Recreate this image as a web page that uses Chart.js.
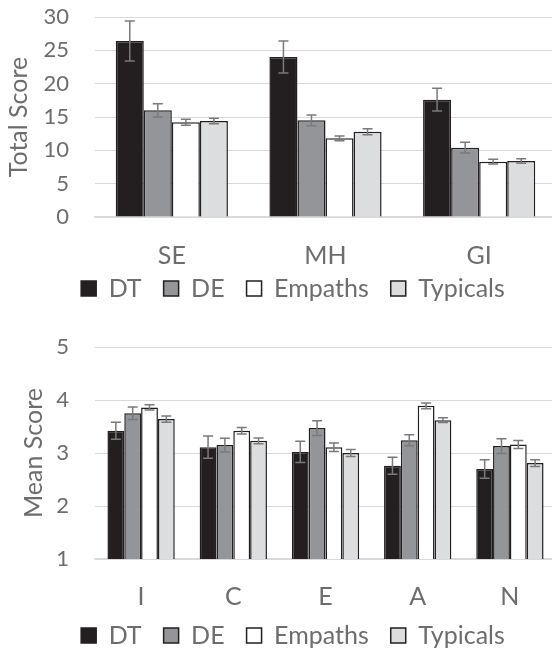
<!DOCTYPE html>
<html>
<head>
<meta charset="utf-8">
<script src="https://cdn.jsdelivr.net/npm/chart.js@4/dist/chart.umd.min.js"></script>
<style>
  body { margin: 0; background: #fff; overflow: hidden; }
  #top { position: absolute; left: 0; top: 0; }
  #bottom { position: absolute; left: 0; top: 318px; }
</style>
</head>
<body>
<canvas id="top" width="556" height="328"></canvas>
<canvas id="bottom" width="556" height="351"></canvas>
<script>
/* data */

const groups = ['DT', 'DE', 'Empaths', 'Typicals'];

const totalCategories = ['SE', 'MH', 'GI'];
const totalDT = [26.4, 24.0, 17.6];
const totalDTErr = [3.0, 2.4, 1.7];
const totalDE = [16.0, 14.5, 10.4];
const totalDEErr = [1.0, 0.8, 0.8];
const totalEmpaths = [14.2, 11.8, 8.3];
const totalEmpathsErr = [0.45, 0.35, 0.35];
const totalTypicals = [14.4, 12.8, 8.4];
const totalTypicalsErr = [0.4, 0.45, 0.35];
const totalTicks = { min: 0, max: 30, step: 5 };

const meanCategories = ['I', 'C', 'E', 'A', 'N'];
const meanDT = [3.42, 3.11, 3.02, 2.76, 2.70];
const meanDTErr = [0.16, 0.21, 0.20, 0.16, 0.175];
const meanDE = [3.75, 3.15, 3.47, 3.24, 3.13];
const meanDEErr = [0.12, 0.13, 0.14, 0.105, 0.14];
const meanEmpaths = [3.86, 3.42, 3.11, 3.89, 3.16];
const meanEmpathsErr = [0.05, 0.06, 0.08, 0.055, 0.075];
const meanTypicals = [3.64, 3.23, 3.00, 3.62, 2.81];
const meanTypicalsErr = [0.06, 0.055, 0.065, 0.045, 0.065];
const meanTicks = { min: 1, max: 5, step: 1 };

const fills = ['#231f20', '#939598', '#ffffff', '#dcddde'];
const textColor = '#6d6d6d';
const gridColor = '#d9d9d9';

Chart.defaults.font.family = 'Lato, "Open Sans", sans-serif';
Chart.defaults.color = textColor;

//draws the error bars on each bar using the y scale
const errorBars = {
    id: 'errorBars',
    afterDatasetsDraw(chart) {
        const ctx = chart.ctx;
        const yScale = chart.scales.y;
        chart.data.datasets.forEach((ds, i) => {
            const meta = chart.getDatasetMeta(i);
            meta.data.forEach((bar, j) => {
                const v = ds.data[j];
                const e = ds.errors[j];
                const yTop = yScale.getPixelForValue(v + e);
                const yBot = yScale.getPixelForValue(v - e);
                ctx.save();
                ctx.strokeStyle = '#7a7a7a';
                ctx.lineWidth = 1.5;
                ctx.beginPath();
                ctx.moveTo(bar.x, yTop); ctx.lineTo(bar.x, yBot);
                ctx.moveTo(bar.x - 5, yTop); ctx.lineTo(bar.x + 5, yTop);
                ctx.moveTo(bar.x - 5, yBot); ctx.lineTo(bar.x + 5, yBot);
                ctx.stroke();
                ctx.restore();
            });
        });
    }
};

//move the legend a bit (right and up), it sits closer to the labels in the original
const legendShift = {
    id: 'legendShift',
    afterLayout(chart, args, opts) {
        chart.legend.left += opts.dx;
        chart.legend.right += opts.dx;
        chart.legend.top += opts.dy;
        chart.legend.bottom += opts.dy;
    }
};

function makeDatasets(values, errors) {
    return groups.map((g, i) => ({
        label: g,
        data: values[i],
        errors: errors[i],
        backgroundColor: fills[i],
        borderColor: '#231f20',
        borderWidth: 1.5,
        categoryPercentage: 0.73,
        barPercentage: 1.0
    }));
}

function drawChart(id, labels, datasets, ticks, title, padTop, titlePad, xPad, legendDy) {
    const ctx = document.getElementById(id).getContext('2d');
    return new Chart(ctx, {
        type: 'bar',
        data: { labels: labels, datasets: datasets },
        plugins: [errorBars, legendShift],
        options: {
            responsive: false,
            animation: false,
            layout: { padding: { top: padTop, left: 0, right: 0, bottom: 0 } },
            plugins: {
                legendShift: { dx: 15, dy: legendDy },
                tooltip: { enabled: false },
                legend: {
                    position: 'bottom',
                    labels: {
                        boxWidth: 15,
                        boxHeight: 15,
                        padding: 22,
                        font: { size: 25 },
                        color: textColor
                    }
                }
            },
            scales: {
                x: {
                    afterFit(scale) { scale.height = xPad + 30; },
                    grid: { display: false, drawTicks: false },
                    border: { color: gridColor, width: 1.5 },
                    ticks: { font: { size: 25 }, padding: xPad, color: textColor }
                },
                y: {
                    min: ticks.min,
                    max: ticks.max,
                    afterFit(scale) {
                        scale.width = 95;
                        scale.paddingTop = 0;
                        scale.paddingBottom = 0;
                    },
                    grid: { color: gridColor, lineWidth: 1, drawTicks: false },
                    border: { display: false },
                    ticks: { stepSize: ticks.step, autoSkip: false, font: { size: 22 }, padding: 26, color: textColor },
                    title: { display: true, text: title, font: { size: 25 }, color: textColor,
                             padding: { top: titlePad, bottom: 0 } }
                }
            }
        }
    });
}

drawChart('top', totalCategories,
    makeDatasets([totalDT, totalDE, totalEmpaths, totalTypicals],
                 [totalDTErr, totalDEErr, totalEmpathsErr, totalTypicalsErr]),
    totalTicks, 'Total Score', 17, 4, 24, -17);

drawChart('bottom', meanCategories,
    makeDatasets([meanDT, meanDE, meanEmpaths, meanTypicals],
                 [meanDTErr, meanDEErr, meanEmpathsErr, meanTypicalsErr]),
    meanTicks, 'Mean Score', 29, 19, 23, -11);
</script>
</body>
</html>
